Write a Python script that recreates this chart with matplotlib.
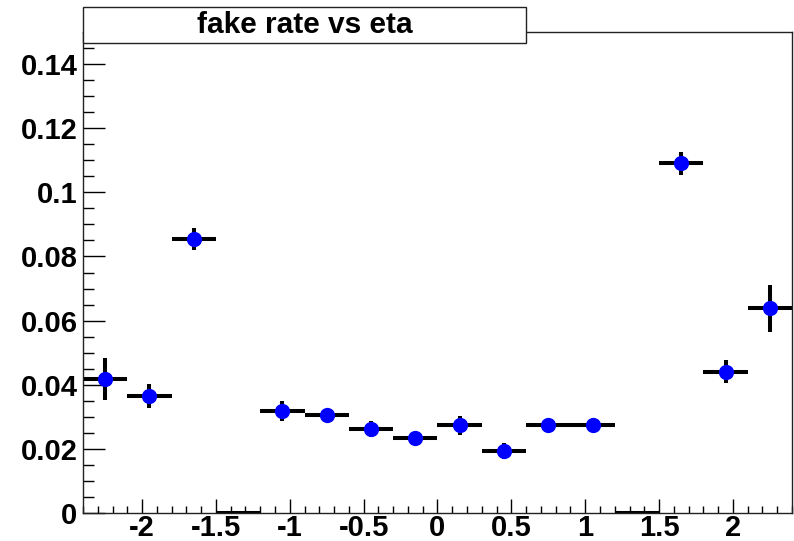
import numpy as np
import matplotlib
matplotlib.use("Agg")
import matplotlib.pyplot as plt
from matplotlib.patches import Rectangle
from matplotlib.ticker import MultipleLocator, FuncFormatter

plt.rcParams['font.family'] = ['Liberation Sans', 'DejaVu Sans']
plt.rcParams['font.weight'] = 'bold'

# eta binning: 16 bins of width 0.3 between -2.4 and 2.4
bin_edges = [-2.4, -2.1, -1.8, -1.5, -1.2, -0.9, -0.6, -0.3, 0.0,
             0.3, 0.6, 0.9, 1.2, 1.5, 1.8, 2.1, 2.4]
fake_rate = [0.0417, 0.0365, 0.0854, 0.0, 0.0318, 0.0305, 0.0261, 0.0234,
             0.0273, 0.0193, 0.0273, 0.0273, 0.0, 0.1090, 0.0441, 0.0638]
fake_rate_err = [0.0066, 0.0036, 0.0034, 0.0, 0.0031, 0.0020, 0.0025, 0.0020,
                 0.0029, 0.0024, 0.0020, 0.0020, 0.0, 0.0036, 0.0036, 0.0073]
title_text = "fake rate vs eta"

edges = np.array(bin_edges)
centers = 0.5 * (edges[:-1] + edges[1:])
half_width = 0.5 * (edges[1:] - edges[:-1])
vals = np.array(fake_rate)
errs = np.array(fake_rate_err)

W, H = 794, 541
fig = plt.figure(figsize=(W / 100, H / 100), dpi=100)
ax = fig.add_axes([83 / W, (H - 513) / H, (792 - 83) / W, (513 - 32) / H])

# error crosses for every bin (zero bins show as a flat bar on the axis)
ax.errorbar(centers, vals, xerr=half_width, yerr=errs, fmt='none',
            ecolor='black', elinewidth=2.9, capsize=0, zorder=2)
nz = vals > 0
ax.plot(centers[nz], vals[nz], 'o', color='#0000ff', markersize=11,
        markeredgewidth=0, zorder=3)

ax.set_xlim(-2.4, 2.4)
ax.set_ylim(0, 0.15)

ax.xaxis.set_major_locator(MultipleLocator(0.5))
ax.xaxis.set_minor_locator(MultipleLocator(0.1))
ax.yaxis.set_major_locator(MultipleLocator(0.02))
ax.yaxis.set_minor_locator(MultipleLocator(0.005))


def fmt(v, pos):
    s = ('%.2f' % v).rstrip('0').rstrip('.')
    if s in ('-0', ''):
        s = '0'
    return s


ax.xaxis.set_major_formatter(FuncFormatter(fmt))
ax.yaxis.set_major_formatter(FuncFormatter(fmt))

ax.tick_params(axis='both', which='both', direction='in', colors='black',
               labelsize=21, top=False, right=False, width=1)
ax.tick_params(axis='y', which='major', length=15.8, pad=4)
ax.tick_params(axis='y', which='minor', length=7.9)
ax.tick_params(axis='x', which='major', length=10, pad=1)
ax.tick_params(axis='x', which='minor', length=5)
for lab in ax.get_xticklabels() + ax.get_yticklabels():
    lab.set_fontweight('bold')

for sp in ax.spines.values():
    sp.set_linewidth(1.0)
    sp.set_color('#222222')

# title box overlapping the top of the frame
x0, x1 = 83 / W, 526 / W
y0, y1 = 1 - 43 / H, 1 - 7 / H
fig.patches.append(Rectangle((x0, y0), x1 - x0, y1 - y0, transform=fig.transFigure,
                             facecolor='white', edgecolor='#222222', linewidth=1.0,
                             zorder=5))
fig.text((x0 + x1) / 2, (y0 + y1) / 2, title_text, ha='center', va='center',
         fontsize=21.5, fontweight='bold', zorder=6)

fig.savefig('out.png', dpi=100)
